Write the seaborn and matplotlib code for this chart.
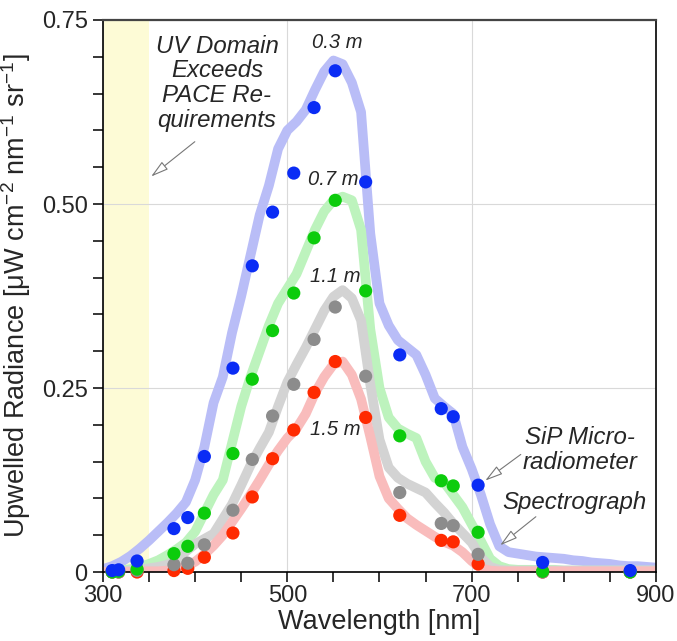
import matplotlib
matplotlib.use("Agg")
import matplotlib.pyplot as plt
import numpy as np
import pandas as pd
import seaborn as sns

# spectrograph (dense, light) readings every 10 nm
spec_wl = list(range(300, 910, 10))
spec_03 = [0.004, 0.008, 0.014, 0.022, 0.032, 0.043, 0.055, 0.067, 0.080, 0.095,
           0.125, 0.170, 0.230, 0.265, 0.325, 0.375, 0.430, 0.485, 0.525, 0.575,
           0.600, 0.612, 0.628, 0.655, 0.680, 0.695, 0.690, 0.665, 0.625, 0.460,
           0.365, 0.335, 0.315, 0.305, 0.295, 0.268, 0.236, 0.225, 0.215, 0.170,
           0.140, 0.105, 0.065, 0.035, 0.027, 0.025, 0.023, 0.021, 0.020, 0.019,
           0.018, 0.016, 0.015, 0.013, 0.012, 0.011, 0.009, 0.008, 0.008, 0.007,
           0.006]
spec_07 = [0.000, 0.001, 0.002, 0.004, 0.007, 0.011, 0.016, 0.023, 0.031, 0.040,
           0.055, 0.080, 0.105, 0.125, 0.175, 0.225, 0.265, 0.300, 0.335, 0.365,
           0.385, 0.405, 0.435, 0.465, 0.490, 0.505, 0.510, 0.505, 0.465, 0.330,
           0.250, 0.210, 0.195, 0.188, 0.182, 0.150, 0.128, 0.122, 0.105, 0.088,
           0.065, 0.042, 0.018, 0.008, 0.004, 0.003, 0.003, 0.003, 0.003, 0.003,
           0.002, 0.002, 0.002, 0.002, 0.002, 0.002, 0.002, 0.002, 0.002, 0.002,
           0.002]
spec_11 = [0.000, 0.001, 0.001, 0.002, 0.003, 0.005, 0.007, 0.010, 0.016, 0.028,
           0.038, 0.045, 0.052, 0.072, 0.092, 0.118, 0.145, 0.168, 0.190, 0.225,
           0.258, 0.282, 0.305, 0.330, 0.355, 0.374, 0.383, 0.372, 0.342, 0.255,
           0.180, 0.142, 0.128, 0.120, 0.114, 0.108, 0.094, 0.081, 0.066, 0.053,
           0.040, 0.020, 0.007, 0.003, 0.002, 0.002, 0.002, 0.002, 0.002, 0.002,
           0.002, 0.002, 0.002, 0.002, 0.002, 0.002, 0.002, 0.002, 0.002, 0.002,
           0.002]
spec_15 = [0.000, 0.000, 0.000, 0.000, 0.001, 0.001, 0.001, 0.002, 0.004, 0.008,
           0.014, 0.024, 0.036, 0.050, 0.068, 0.086, 0.105, 0.125, 0.146, 0.165,
           0.182, 0.195, 0.215, 0.243, 0.265, 0.282, 0.286, 0.268, 0.235, 0.184,
           0.130, 0.100, 0.086, 0.073, 0.064, 0.056, 0.048, 0.041, 0.036, 0.027,
           0.015, 0.005, 0.002, 0.001, 0.001, 0.001, 0.001, 0.001, 0.001, 0.001,
           0.001, 0.001, 0.001, 0.001, 0.001, 0.001, 0.001, 0.001, 0.001, 0.001,
           0.001]

# SiP microradiometer channels
micro_wl = [310, 317, 337, 377, 392, 410, 441, 462, 484, 507, 529, 552, 585,
            622, 667, 680, 707, 777, 872]
micro_03 = [0.002, 0.003, 0.015, 0.059, 0.074, 0.157, 0.277, 0.416, 0.489, 0.542,
            0.631, 0.681, 0.530, 0.295, 0.222, 0.211, 0.118, 0.013, 0.002]
micro_07 = [0.000, 0.001, 0.004, 0.025, 0.035, 0.080, 0.161, 0.262, 0.328, 0.379,
            0.454, 0.505, 0.382, 0.185, 0.124, 0.117, 0.054, 0.001, 0.000]
micro_11 = [0.000, 0.000, 0.002, 0.010, 0.012, 0.037, 0.084, 0.153, 0.212, 0.255,
            0.316, 0.360, 0.266, 0.108, 0.066, 0.063, 0.024, 0.000, 0.000]
micro_15 = [0.000, 0.000, 0.000, 0.002, 0.005, 0.020, 0.053, 0.102, 0.154, 0.193,
            0.244, 0.286, 0.210, 0.077, 0.043, 0.041, 0.011, 0.000, 0.000]

depths = ["0.3", "0.7", "1.1", "1.5"]
light_colors = ["#b9bdf7", "#bdf3bd", "#d3d3d3", "#f9bcbc"]
dark_colors = ["#0a2cf5", "#0ccc0c", "#8c8c8c", "#ff2a00"]

spec = pd.DataFrame({"wl": spec_wl, "0.3": spec_03, "0.7": spec_07, "1.1": spec_11, "1.5": spec_15})
micro = pd.DataFrame({"wl": micro_wl, "0.3": micro_03, "0.7": micro_07, "1.1": micro_11, "1.5": micro_15})

sns.set_theme(style="ticks")
plt.rcParams["font.family"] = ["Liberation Sans", "DejaVu Sans"]
plt.rcParams["mathtext.fontset"] = "custom"
plt.rcParams["mathtext.rm"] = "Liberation Sans"
plt.rcParams["mathtext.it"] = "Liberation Sans:italic"

fig = plt.figure(figsize=(6.77, 6.41), dpi=100)
ax = fig.add_axes([0.1521, 0.1076, 0.8169, 0.8612])

ax.axvspan(300, 350, color="#fdfbd6", zorder=0, lw=0)
ax.grid(True, which="major", color="#d9d9d9", lw=0.8, zorder=0.5)

for d, c in zip(depths, light_colors):
    sns.lineplot(data=spec, x="wl", y=d, ax=ax, color=c, lw=7,
                 solid_capstyle="round", solid_joinstyle="round", zorder=2)

for d, c in reversed(list(zip(depths, dark_colors))):
    sns.scatterplot(data=micro, x="wl", y=d, ax=ax, color=c, s=90,
                    edgecolor="none", zorder=3, clip_on=False)

ax.set_xlim(300, 900)
ax.set_ylim(0, 0.75)
ax.set_xticks([300, 500, 700, 900])
ax.set_xticks(range(300, 901, 50), minor=True)
ax.set_yticks([0, 0.25, 0.5, 0.75])
ax.set_yticklabels(["0", "0.25", "0.50", "0.75"])
ax.set_yticks(np.arange(0, 0.76, 0.05), minor=True)
ax.tick_params(which="both", direction="out", length=7, width=1.1, color="black")
ax.tick_params(axis="x", labelsize=17, pad=2)
ax.tick_params(axis="y", labelsize=17, pad=4)
for sp in ax.spines.values():
    sp.set_visible(True)
    sp.set_linewidth(1.2)
    sp.set_color("black")
ax.spines["top"].set_color("#444444")
ax.spines["top"].set_linewidth(1.6)

ax.set_xlabel("Wavelength [nm]", fontsize=19.5, labelpad=2)
ax.set_ylabel("Upwelled Radiance [μW cm$^{-2}$ nm$^{-1}$ sr$^{-1}$]", fontsize=19.5, labelpad=6)

for label, (x, y) in zip(depths, [(554, 0.720), (549.5, 0.533), (551.7, 0.402), (551.7, 0.193)]):
    ax.text(x, y, f"{label} m", fontsize=14.5, style="italic", ha="center", va="center", zorder=4)

ax.text(423.7, 0.664, "UV Domain\nExceeds\nPACE Re-\nquirements", fontsize=17.3,
        style="italic", ha="center", va="center", linespacing=1.1)
ax.text(817.5, 0.166, "SiP Micro-\nradiometer", fontsize=17.3, style="italic",
        ha="center", va="center", linespacing=1.1)
ax.text(811, 0.095, "Spectrograph", fontsize=17.3, style="italic", ha="center", va="center")

arrow = dict(arrowstyle="-|>,head_length=0.9,head_width=0.25", fc="white", ec="#777777", lw=0.8)
ax.annotate("", xy=(349.9, 0.535), xytext=(402, 0.587), arrowprops=arrow)
ax.annotate("", xy=(712.3, 0.122), xytext=(755.7, 0.162), arrowprops=arrow, zorder=5)
ax.annotate("", xy=(728.6, 0.034), xytext=(772, 0.0775), arrowprops=arrow, zorder=5)

fig.savefig("out.png", dpi=100)
